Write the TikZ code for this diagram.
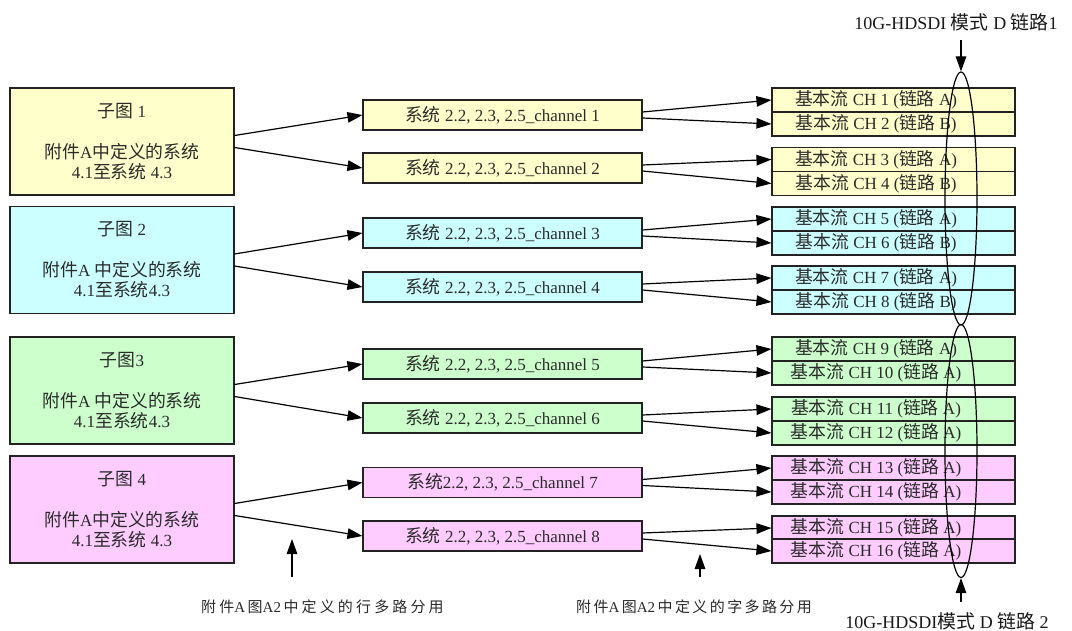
\documentclass[tikz,border=0pt]{standalone}
\usepackage{fontspec}
\setmainfont{Liberation Serif}
\newfontfamily\cjkfont{Noto Sans CJK SC}[Scale=1.05]
\newfontfamily\cjkwide{Noto Sans CJK SC}[LetterSpace=16]
\newfontfamily\cjkwider{Noto Sans CJK SC}[LetterSpace=21]
\newcommand\zh[1]{{\cjkfont #1}}
\newcommand\zw[1]{{\cjkwide #1}}
\newcommand\zww[1]{{\cjkwider #1}}
\usetikzlibrary{arrows.meta,shapes.geometric}
\definecolor{cyel}{HTML}{FFFFCC}
\definecolor{ccya}{HTML}{CCFFFF}
\definecolor{cgre}{HTML}{CCFFCC}
\definecolor{cpin}{HTML}{FFCCFF}
\definecolor{txt}{HTML}{2A2A2A}
\definecolor{edge}{HTML}{222222}
\tikzset{
  basebox/.style={draw=edge, line width=1.1pt, inner sep=0pt, text=txt,
    font=\fontsize{17}{20}\selectfont},
  lbox/.style={basebox, minimum width=224pt, minimum height=107pt, align=center},
  mbox/.style={basebox, minimum width=279pt, minimum height=30pt},
  rbox/.style={basebox, minimum width=243pt, minimum height=24pt},
  rtext/.style={text=txt, font=\fontsize{17}{20}\selectfont, inner sep=0pt},
  lab/.style={text=black!90, font=\fontsize{18}{20}\selectfont, inner sep=0pt},
  blab/.style={text=txt, font=\fontsize{15}{18}\selectfont, inner sep=0pt},
  ell/.style={draw=black, line width=1.2pt, ellipse, minimum width=32pt, minimum height=253pt, inner sep=0pt},
  arr/.style={-{Triangle[length=15pt,width=10.5pt]}, line width=1.2pt, draw=black}
}
\begin{document}
\begin{tikzpicture}[x=1pt,y=-1pt]
\useasboundingbox[fill=white] (0,0) rectangle (1072,631);

% left boxes
\node[lbox, fill=cyel] (L1) at (122,141.5) {\zh{子图} 1\\[21pt]\zh{附件}A\zh{中定义的系统}\\4.1\zh{至系统} 4.3};
\node[lbox, fill=ccya] (L2) at (122,260) {\zh{子图} 2\\[21pt]\zh{附件}A \zh{中定义的系统}\\4.1\zh{至系统}4.3};
\node[lbox, fill=cgre] (L3) at (122,390.5) {\zh{子图}3\\[21pt]\zh{附件}A \zh{中定义的系统}\\4.1\zh{至系统}4.3};
\node[lbox, fill=cpin] (L4) at (122,509.5) {\zh{子图} 4\\[21pt]\zh{附件}A\zh{中定义的系统}\\4.1\zh{至系统} 4.3};

% middle boxes
\node[mbox, fill=cyel] (M1) at (502.5,115) {\zh{系统} 2.2, 2.3, 2.5\_channel 1};
\node[mbox, fill=cyel] (M2) at (502.5,168) {\zh{系统} 2.2, 2.3, 2.5\_channel 2};
\node[mbox, fill=ccya] (M3) at (502.5,233) {\zh{系统} 2.2, 2.3, 2.5\_channel 3};
\node[mbox, fill=ccya] (M4) at (502.5,287) {\zh{系统} 2.2, 2.3, 2.5\_channel 4};
\node[mbox, fill=cgre] (M5) at (502.5,364) {\zh{系统} 2.2, 2.3, 2.5\_channel 5};
\node[mbox, fill=cgre] (M6) at (502.5,418) {\zh{系统} 2.2, 2.3, 2.5\_channel 6};
\node[mbox, fill=cpin] (M7) at (502.5,482.5) {\zh{系统}2.2, 2.3, 2.5\_channel 7};
\node[mbox, fill=cpin] (M8) at (502.5,536) {\zh{系统} 2.2, 2.3, 2.5\_channel 8};

% right rows
\foreach \i/\y/\c/\l in {1/100/cyel/A, 2/124/cyel/B, 3/159.5/cyel/A, 4/183.5/cyel/B,
  5/219/ccya/A, 6/243/ccya/B, 7/278/ccya/A, 8/302/ccya/B,
  9/349/cgre/A, 10/373/cgre/A, 11/409/cgre/A, 12/433/cgre/A,
  13/468/cpin/A, 14/492/cpin/A, 15/528/cpin/A, 16/551/cpin/A}{
  \node[rbox, fill=\c] (R\i) at (893.5,\y) {};
  \node[rtext] (R\i t) at (876,\y) {\zh{基本流} CH \i\ (\zh{链路} \l)};
}

% left -> middle
\foreach \a/\b/\c in {1/1/2, 2/3/4, 3/5/6, 4/7/8}{
  \draw[arr] ([yshift=6pt]L\a.east) -- (M\b.west);
  \draw[arr] ([yshift=-6pt]L\a.east) -- (M\c.west);
}
% middle -> right
\foreach \m/\p/\q in {1/1/2, 2/3/4, 3/5/6, 4/7/8, 5/9/10, 6/11/12, 7/13/14, 8/15/16}{
  \draw[arr] ([yshift=3pt]M\m.east) -- (R\p.west);
  \draw[arr] ([yshift=-3pt]M\m.east) -- (R\q.west);
}

% ellipses
\node[ell] (E1) at (961,198.5) {};
\node[ell] (E2) at (961,451) {};
\node[lab] (T1) at (956,22) {10G-HDSDI \zh{模式} D \zh{链路}1};
\node[lab] (T2) at (947,621) {10G-HDSDI\zh{模式} D \zh{链路} 2};
\coordinate (a1) at (961,40);
\coordinate (a2) at (961,602);
\draw[arr] (a1) -- (E1.north);
\draw[arr] (a2) -- (E2.south);

% bottom annotations
\coordinate (b1s) at (292,577);
\coordinate (b1e) at (292,539);
\coordinate (b2s) at (700,577);
\coordinate (b2e) at (700,554);
\draw[arr] (b1s) -- (b1e);
\draw[arr] (b2s) -- (b2e);
\node[blab] (B1) at (322.5,607) {\zww{附件}A\,\zww{图}A2\,\zww{中定义的行多路分用}};
\node[blab] (B2) at (694,607) {\zw{附件}A\,\zw{图}A2\,\zw{中定义的字多路分用}};
\end{tikzpicture}
\end{document}
